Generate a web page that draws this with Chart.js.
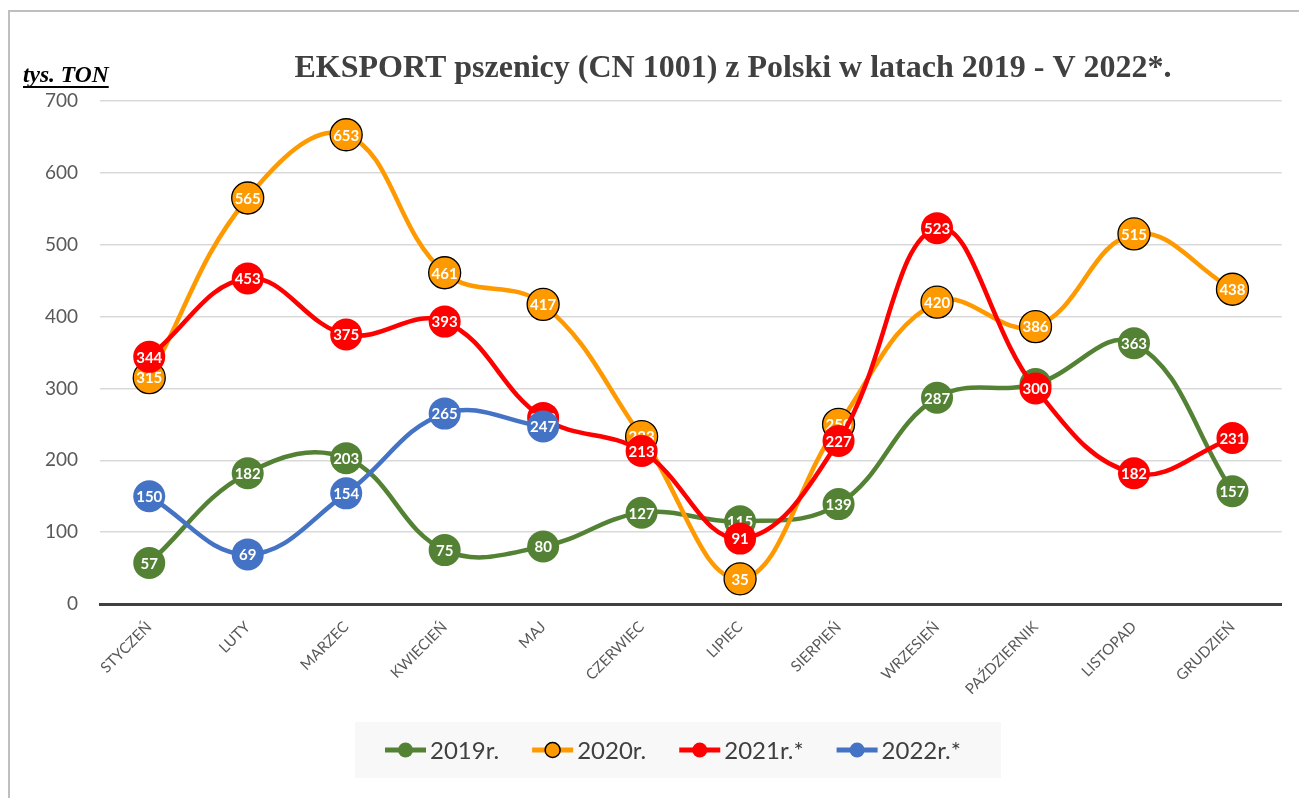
<!DOCTYPE html>
<html>
<head>
<meta charset="utf-8">
<script src="https://cdn.jsdelivr.net/npm/chart.js@4/dist/chart.umd.min.js"></script>
<style>
  html, body { margin: 0; padding: 0; background: #fff; }
</style>
</head>
<body>
<canvas id="exportChart" width="1299" height="798"></canvas>
<script>
const months = ["STYCZEŃ", "LUTY", "MARZEC", "KWIECIEŃ", "MAJ", "CZERWIEC", "LIPIEC", "SIERPIEŃ", "WRZESIEŃ", "PAŹDZIERNIK", "LISTOPAD", "GRUDZIEŃ"];
const yTicks = [0, 100, 200, 300, 400, 500, 600, 700];
const seriesNames = ["2019r.", "2020r.", "2021r.*", "2022r.*"];
const values2019 = [57, 182, 203, 75, 80, 127, 115, 139, 287, 306, 363, 157];
const values2020 = [315, 565, 653, 461, 417, 233, 35, 250, 420, 386, 515, 438];
const values2021 = [344, 453, 375, 393, 259, 213, 91, 227, 523, 300, 182, 231];
const values2022 = [150, 69, 154, 265, 247, null, null, null, null, null, null, null];

const titleText = "EKSPORT pszenicy (CN 1001) z Polski w latach 2019 - V 2022*.";
const unitText = "tys. TON";

function series(label, data, color, pointBorder, order) {
    return {
        label: label,
        data: data,
        borderColor: color,
        backgroundColor: color,
        pointBackgroundColor: color,
        pointBorderColor: pointBorder,
        pointBorderWidth: pointBorder === color ? 0 : 1.3,
        pointRadius: 16,
        pointHoverRadius: 16,
        borderWidth: 4.5,
        tension: 0.4,
        fill: false,
        clip: false,
        order: order
    };
}

// white value labels inside each point, drawn right after its own dataset
const valueLabels = {
    id: "valueLabels",
    afterDatasetDraw(chart, args) {
        const ctx = chart.ctx;
        const ds = chart.data.datasets[args.index];
        ctx.save();
        ctx.font = "bold 15px Lato";
        ctx.fillStyle = "#ffffff";
        ctx.textAlign = "center";
        ctx.textBaseline = "middle";
        args.meta.data.forEach((pt, i) => {
            const v = ds.data[i];
            if (v === null || v === undefined) return;
            ctx.fillText(String(v), pt.x, pt.y + 1);
        });
        ctx.restore();
    }
};

const decorations = {
    id: "decorations",
    beforeDraw(chart) {
        const ctx = chart.ctx;
        ctx.save();
        ctx.fillStyle = "#ffffff";
        ctx.fillRect(0, 0, chart.width, chart.height);
        ctx.strokeStyle = "#bfbfbf";
        ctx.lineWidth = 2;
        ctx.beginPath();
        ctx.moveTo(9, chart.height);
        ctx.lineTo(9, 11);
        ctx.lineTo(chart.width, 11);
        ctx.stroke();
        ctx.restore();
    },
    afterDraw(chart) {
        const ctx = chart.ctx;
        ctx.save();

        // title
        ctx.font = "bold 32px 'Liberation Serif'";
        ctx.fillStyle = "#404040";
        ctx.textAlign = "center";
        ctx.textBaseline = "alphabetic";
        ctx.fillText(titleText, 733, 77);

        // unit label
        ctx.font = "italic bold 23.5px 'Liberation Serif'";
        ctx.fillStyle = "#000000";
        ctx.textAlign = "left";
        ctx.fillText(unitText, 23, 82);
        const w = ctx.measureText(unitText).width;
        ctx.fillRect(23, 86, w, 2);

        // legend
        ctx.fillStyle = "#f8f8f8";
        ctx.fillRect(355, 722, 646, 56);
        ctx.font = "24px Lato";
        ctx.textBaseline = "middle";
        let x = 385;
        const y = 750;
        chart.data.datasets.forEach(ds => {
            ctx.strokeStyle = ds.borderColor;
            ctx.lineWidth = 5;
            ctx.beginPath();
            ctx.moveTo(x, y);
            ctx.lineTo(x + 41, y);
            ctx.stroke();
            ctx.beginPath();
            ctx.arc(x + 20.5, y, 7.5, 0, Math.PI * 2);
            ctx.fillStyle = ds.pointBackgroundColor;
            ctx.fill();
            if (ds.pointBorderWidth > 0) {
                ctx.lineWidth = 1.5;
                ctx.strokeStyle = ds.pointBorderColor;
                ctx.stroke();
            }
            ctx.fillStyle = "#404040";
            ctx.fillText(ds.label, x + 45, y + 1);
            x += 45 + ctx.measureText(ds.label).width + 33;
        });
        ctx.restore();
    }
};

const ctx = document.getElementById("exportChart").getContext("2d");

const chart = new Chart(ctx, {
    type: "line",
    data: {
        labels: months,
        datasets: [
            series(seriesNames[0], values2019, "#548235", "#548235", 3),
            series(seriesNames[1], values2020, "#ff9900", "#000000", 2),
            series(seriesNames[2], values2021, "#ff0000", "#ff0000", 1),
            series(seriesNames[3], values2022, "#4472c4", "#4472c4", 0)
        ]
    },
    options: {
        responsive: false,
        animation: false,
        layout: { padding: { top: 101, right: 16, bottom: 94, left: 0 } },
        plugins: {
            legend: { display: false },
            title: { display: false },
            tooltip: { enabled: false }
        },
        scales: {
            x: {
                offset: true,
                grid: { display: false, drawTicks: false },
                border: { display: true, color: "#404040", width: 3 },
                ticks: {
                    color: "#595959",
                    font: { family: "Lato", size: 15 },
                    minRotation: 45,
                    maxRotation: 45,
                    autoSkip: false,
                    padding: 14
                },
                afterFit: s => { s.height = 100; }
            },
            y: {
                min: 0,
                max: 700,
                afterBuildTicks: s => { s.ticks = yTicks.map(v => ({ value: v })); },
                ticks: {
                    color: "#595959",
                    font: { family: "Lato", size: 19 },
                    padding: 22
                },
                grid: {
                    color: c => (c.tick && c.tick.value === 0) ? "rgba(0,0,0,0)" : "#d9d9d9",
                    lineWidth: 1.5,
                    drawTicks: false
                },
                border: { display: false },
                afterFit: s => { s.width = 100; }
            }
        }
    },
    plugins: [valueLabels, decorations]
});
</script>
</body>
</html>
